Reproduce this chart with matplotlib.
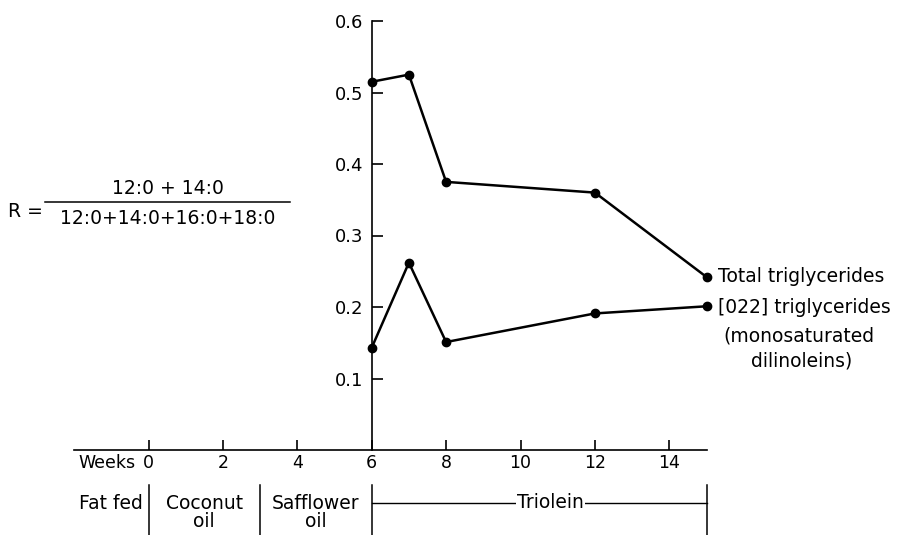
import numpy as np
import matplotlib
matplotlib.use("Agg")
import matplotlib.pyplot as plt
from matplotlib.lines import Line2D

### DATA
### ------------------
weeks = [6, 7, 8, 12, 15]
total_tg = [0.515, 0.525, 0.375, 0.360, 0.242]
o22_tg = [0.143, 0.262, 0.151, 0.191, 0.201]

x_ticks = [0, 2, 4, 6, 8, 10, 12, 14]
y_ticks = [0.1, 0.2, 0.3, 0.4, 0.5, 0.6]

phase_labels = ["Fat fed", "Coconut\noil", "Safflower\noil", "Triolein"]
phase_bounds = [-2, 0, 3, 6, 15]

series_labels = ["Total triglycerides", "[022] triglycerides"]
note_lines = ["(monosaturated", "dilinoleins)"]

### FIGURE
### ------------------
W, H = 918, 535
fig = plt.figure(figsize=(W / 100, H / 100), dpi=100)
ax = fig.add_axes([0, 0, 1, 1])

# pixel mapping: week 0 at x=148.5, 37.2 px/week; R=0 at y=450, 715 px/unit
x0, xs = 148.5, 37.2
y0, ys = 450, 715
ax.set_xlim(-x0 / xs, (W - x0) / xs)
ax.set_ylim(-(H - y0) / ys, y0 / ys)
ax.patch.set_visible(False)

for s in ["top", "right"]:
    ax.spines[s].set_visible(False)
ax.spines["left"].set_position(("data", 6))
ax.spines["bottom"].set_position(("data", 0))
ax.spines["left"].set_bounds(0, 0.6)
ax.spines["bottom"].set_bounds(-2, 15)
ax.spines["left"].set_linewidth(1.2)
ax.spines["bottom"].set_linewidth(1.2)

ax.set_xticks(x_ticks)
ax.set_xticklabels([str(v) for v in x_ticks])
ax.set_yticks(y_ticks)
ax.set_yticklabels(["%.1f" % v for v in y_ticks])
ax.tick_params(axis="x", direction="in", length=7, width=1.2, pad=3, labelsize=12.5)
ax.tick_params(axis="y", direction="in", length=8, width=1.2, pad=6, labelsize=13)

ax.plot(weeks, total_tg, color="black", lw=1.8, marker="o", ms=6)
ax.plot(weeks, o22_tg, color="black", lw=1.8, marker="o", ms=6)

fs = 13.5
ax.text(-0.35, -0.018, "Weeks", ha="right", va="center", fontsize=12.5)

# series labels
ax.text(15.3, total_tg[-1], series_labels[0], ha="left", va="center", fontsize=fs)
ax.text(15.3, o22_tg[-1] - 0.002, series_labels[1], ha="left", va="center", fontsize=fs)
ax.text(15.45, o22_tg[-1] - 0.041, note_lines[0], ha="left", va="center", fontsize=fs)
ax.text(16.2, o22_tg[-1] - 0.076, note_lines[1], ha="left", va="center", fontsize=fs)

# phase bar below the axis
for b in phase_bounds[1:]:
    ax.plot([b, b], [-0.049, -0.125], color="black", lw=1.1, clip_on=False)
for i, lab in enumerate(phase_labels):
    mid = (phase_bounds[i] + phase_bounds[i + 1]) / 2
    if lab == "Triolein":
        mid = 10.8
        ax.plot([phase_bounds[i], phase_bounds[i + 1]], [-0.074, -0.074], color="black", lw=1.0)
        ax.text(mid, -0.074, lab, ha="center", va="center", fontsize=fs,
                bbox=dict(facecolor="white", edgecolor="none", pad=1))
        continue
    for j, part in enumerate(lab.split("\n")):
        ax.text(mid, -0.0745 - 0.0255 * j, part, ha="center", va="center", fontsize=fs)

# ratio formula
fig.text(8 / W, 1 - 211 / H, "R =", ha="left", va="center", fontsize=fs)
fig.add_artist(Line2D([45 / W, 290 / W], [1 - 202 / H, 1 - 202 / H], color="black", lw=1.1))
fig.text(168 / W, 1 - 188 / H, "12:0 + 14:0", ha="center", va="center", fontsize=fs)
fig.text(168 / W, 1 - 218 / H, "12:0+14:0+16:0+18:0", ha="center", va="center", fontsize=fs)

fig.savefig("out.png", dpi=100)
